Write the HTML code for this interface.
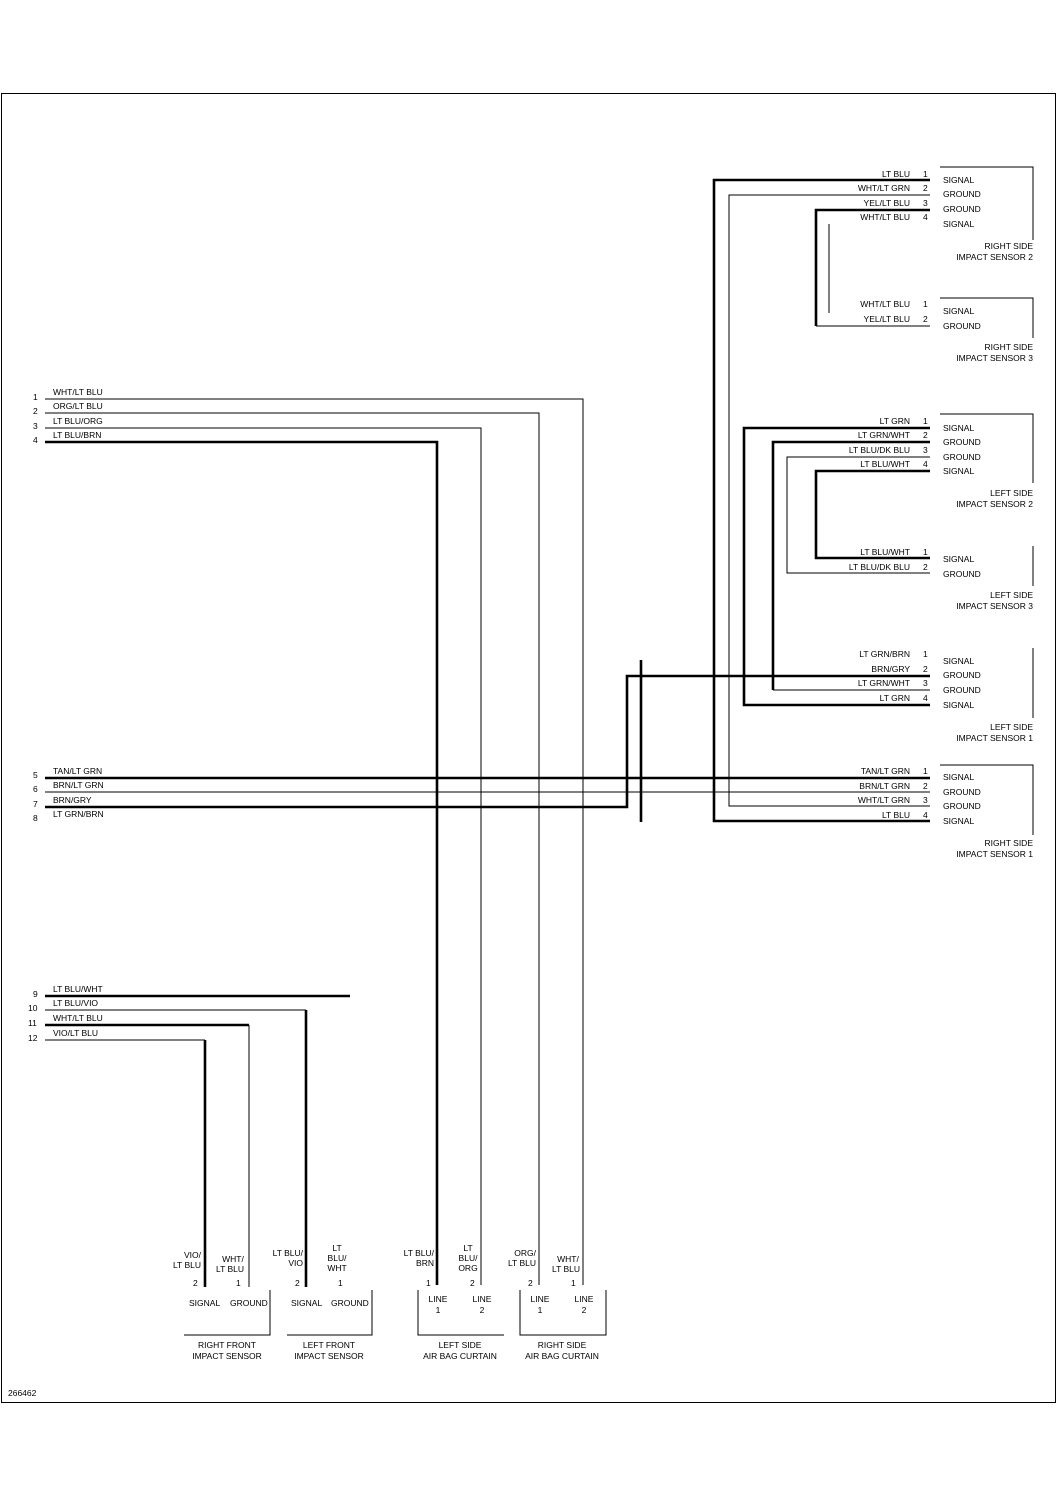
<!DOCTYPE html>
<html><head><meta charset="utf-8"><style>
html,body{margin:0;padding:0;background:#fff;}
svg{display:block;}
text{font-family:"Liberation Sans",sans-serif;font-size:8.5px;fill:#000;}
.k{stroke:#000;fill:none;stroke-width:1;}
.t{stroke:#000;fill:none;stroke-width:2.6;}
.r{text-anchor:end;}
.m{text-anchor:middle;}
</style></head><body>
<svg width="1058" height="1497" viewBox="0 0 1058 1497" xmlns="http://www.w3.org/2000/svg">
<rect x="1.5" y="93.5" width="1054" height="1309" class="k" stroke-width="1.5"/>
<text x="8" y="1396">266462</text>

<!-- left pins 1-4 -->
<text x="33" y="400">1</text><text x="33" y="414">2</text><text x="33" y="429">3</text><text x="33" y="443">4</text>
<text x="53" y="395">WHT/LT BLU</text><text x="53" y="409">ORG/LT BLU</text><text x="53" y="424">LT BLU/ORG</text><text x="53" y="438">LT BLU/BRN</text>
<polyline class="k" points="45,399 583,399 583,1285"/>
<polyline class="k" points="45,413 539,413 539,1285"/>
<polyline class="k" points="45,428 481,428 481,1285"/>
<polyline class="t" points="45,442 437,442 437,1285"/>

<!-- pins 5-8 -->
<text x="33" y="778">5</text><text x="33" y="792">6</text><text x="33" y="807">7</text><text x="33" y="821">8</text>
<text x="53" y="774">TAN/LT GRN</text><text x="53" y="788">BRN/LT GRN</text><text x="53" y="803">BRN/GRY</text><text x="53" y="817">LT GRN/BRN</text>
<line class="t" x1="45" y1="778" x2="930" y2="778"/>
<line class="k" x1="45" y1="792" x2="930" y2="792"/>
<polyline class="t" points="45,807 627,807 627,676 930,676"/>
<line class="t" x1="641" y1="660" x2="641" y2="822"/>

<!-- pins 9-12 -->
<text x="33" y="997">9</text><text x="28" y="1011">10</text><text x="28" y="1026">11</text><text x="28" y="1041">12</text>
<text x="53" y="992">LT BLU/WHT</text><text x="53" y="1006">LT BLU/VIO</text><text x="53" y="1021">WHT/LT BLU</text><text x="53" y="1036">VIO/LT BLU</text>
<line class="t" x1="45" y1="996" x2="350" y2="996"/>
<polyline class="k" points="45,1010 306,1010"/><line class="t" x1="306" y1="1010" x2="306" y2="1287"/>
<polyline class="t" points="45,1025 249,1025"/><line class="k" x1="249" y1="1025" x2="249" y2="1287"/>
<polyline class="k" points="45,1040 205,1040"/><line class="t" x1="205" y1="1040" x2="205" y2="1287"/>

<!-- right side vertical bus wires -->
<polyline class="t" points="930,180 714,180 714,821 930,821"/>
<polyline class="k" points="930,195 729,195 729,806 930,806"/>
<polyline class="t" points="930,210 816,210 816,326"/><polyline class="k" points="816,326 930,326"/>
<line class="k" x1="829" y1="224" x2="829" y2="313"/>
<polyline class="t" points="930,428 744,428 744,705 930,705"/>
<polyline class="t" points="930,442 773,442 773,690"/><polyline class="k" points="773,690 930,690"/>
<polyline class="k" points="930,457 787,457 787,573 930,573"/>
<polyline class="t" points="930,471 816,471 816,558 930,558"/>

<!-- RSIS2 -->
<polyline class="k" points="940,167 1033,167 1033,240"/>
<g>
<text class="r" x="910" y="177">LT BLU</text><text x="923" y="177">1</text>
<text class="r" x="910" y="191">WHT/LT GRN</text><text x="923" y="191">2</text>
<text class="r" x="910" y="206">YEL/LT BLU</text><text x="923" y="206">3</text>
<text class="r" x="910" y="220">WHT/LT BLU</text><text x="923" y="220">4</text>
<text x="943" y="183">SIGNAL</text><text x="943" y="197">GROUND</text><text x="943" y="212">GROUND</text><text x="943" y="227">SIGNAL</text>
<text class="r" x="1033" y="249">RIGHT SIDE</text><text class="r" x="1033" y="260">IMPACT SENSOR 2</text>
</g>
<!-- RSIS3 -->
<polyline class="k" points="940,298 1033,298 1033,338"/>
<text class="r" x="910" y="307">WHT/LT BLU</text><text x="923" y="307">1</text>
<text class="r" x="910" y="322">YEL/LT BLU</text><text x="923" y="322">2</text>
<text x="943" y="314">SIGNAL</text><text x="943" y="329">GROUND</text>
<text class="r" x="1033" y="350">RIGHT SIDE</text><text class="r" x="1033" y="361">IMPACT SENSOR 3</text>
<!-- LSIS2 -->
<polyline class="k" points="940,414 1033,414 1033,483"/>
<text class="r" x="910" y="424">LT GRN</text><text x="923" y="424">1</text>
<text class="r" x="910" y="438">LT GRN/WHT</text><text x="923" y="438">2</text>
<text class="r" x="910" y="453">LT BLU/DK BLU</text><text x="923" y="453">3</text>
<text class="r" x="910" y="467">LT BLU/WHT</text><text x="923" y="467">4</text>
<text x="943" y="431">SIGNAL</text><text x="943" y="445">GROUND</text><text x="943" y="460">GROUND</text><text x="943" y="474">SIGNAL</text>
<text class="r" x="1033" y="496">LEFT SIDE</text><text class="r" x="1033" y="507">IMPACT SENSOR 2</text>
<!-- LSIS3 -->
<line class="k" x1="1033" y1="546" x2="1033" y2="586"/>
<text class="r" x="910" y="555">LT BLU/WHT</text><text x="923" y="555">1</text>
<text class="r" x="910" y="570">LT BLU/DK BLU</text><text x="923" y="570">2</text>
<text x="943" y="562">SIGNAL</text><text x="943" y="577">GROUND</text>
<text class="r" x="1033" y="598">LEFT SIDE</text><text class="r" x="1033" y="609">IMPACT SENSOR 3</text>
<!-- LSIS1 -->
<line class="k" x1="1033" y1="648" x2="1033" y2="718"/>
<text class="r" x="910" y="657">LT GRN/BRN</text><text x="923" y="657">1</text>
<text class="r" x="910" y="672">BRN/GRY</text><text x="923" y="672">2</text>
<text class="r" x="910" y="686">LT GRN/WHT</text><text x="923" y="686">3</text>
<text class="r" x="910" y="701">LT GRN</text><text x="923" y="701">4</text>
<text x="943" y="664">SIGNAL</text><text x="943" y="678">GROUND</text><text x="943" y="693">GROUND</text><text x="943" y="708">SIGNAL</text>
<text class="r" x="1033" y="730">LEFT SIDE</text><text class="r" x="1033" y="741">IMPACT SENSOR 1</text>
<!-- RSIS1 -->
<polyline class="k" points="940,765 1033,765 1033,835"/>
<text class="r" x="910" y="774">TAN/LT GRN</text><text x="923" y="774">1</text>
<text class="r" x="910" y="789">BRN/LT GRN</text><text x="923" y="789">2</text>
<text class="r" x="910" y="803">WHT/LT GRN</text><text x="923" y="803">3</text>
<text class="r" x="910" y="818">LT BLU</text><text x="923" y="818">4</text>
<text x="943" y="780">SIGNAL</text><text x="943" y="795">GROUND</text><text x="943" y="809">GROUND</text><text x="943" y="824">SIGNAL</text>
<text class="r" x="1033" y="846">RIGHT SIDE</text><text class="r" x="1033" y="857">IMPACT SENSOR 1</text>

<!-- bottom connectors -->
<g>
<text class="r" x="201" y="1258">VIO/</text><text class="r" x="201" y="1268">LT BLU</text>
<text class="m" x="233" y="1262">WHT/</text><text class="m" x="230" y="1272">LT BLU</text>
<text x="193" y="1286">2</text><text x="236" y="1286">1</text>
<text x="189" y="1306">SIGNAL</text><text x="230" y="1306">GROUND</text>
<polyline class="k" points="270,1290 270,1335 184,1335"/>
<text class="m" x="227" y="1348">RIGHT FRONT</text><text class="m" x="227" y="1359">IMPACT SENSOR</text>

<text class="r" x="303" y="1256">LT BLU/</text><text class="r" x="303" y="1266">VIO</text>
<text class="m" x="337" y="1251">LT</text><text class="m" x="337" y="1261">BLU/</text><text class="m" x="337" y="1271">WHT</text>
<text x="295" y="1286">2</text><text x="338" y="1286">1</text>
<text x="291" y="1306">SIGNAL</text><text x="331" y="1306">GROUND</text>
<polyline class="k" points="372,1290 372,1335 287,1335"/>
<text class="m" x="329" y="1348">LEFT FRONT</text><text class="m" x="329" y="1359">IMPACT SENSOR</text>

<text class="r" x="434" y="1256">LT BLU/</text><text class="r" x="434" y="1266">BRN</text>
<text class="m" x="468" y="1251">LT</text><text class="m" x="468" y="1261">BLU/</text><text class="m" x="468" y="1271">ORG</text>
<text x="426" y="1286">1</text><text x="470" y="1286">2</text>
<text class="m" x="438" y="1302">LINE</text><text class="m" x="438" y="1313">1</text>
<text class="m" x="482" y="1302">LINE</text><text class="m" x="482" y="1313">2</text>
<polyline class="k" points="418,1290 418,1335 504,1335"/>
<text class="m" x="460" y="1348">LEFT SIDE</text><text class="m" x="460" y="1359">AIR BAG CURTAIN</text>

<text class="r" x="536" y="1256">ORG/</text><text class="r" x="536" y="1266">LT BLU</text>
<text class="m" x="568" y="1262">WHT/</text><text class="m" x="566" y="1272">LT BLU</text>
<text x="528" y="1286">2</text><text x="571" y="1286">1</text>
<text class="m" x="540" y="1302">LINE</text><text class="m" x="540" y="1313">1</text>
<text class="m" x="584" y="1302">LINE</text><text class="m" x="584" y="1313">2</text>
<polyline class="k" points="520,1290 520,1335 606,1335 606,1290"/>
<text class="m" x="562" y="1348">RIGHT SIDE</text><text class="m" x="562" y="1359">AIR BAG CURTAIN</text>
</g>
</svg>
</body></html>
